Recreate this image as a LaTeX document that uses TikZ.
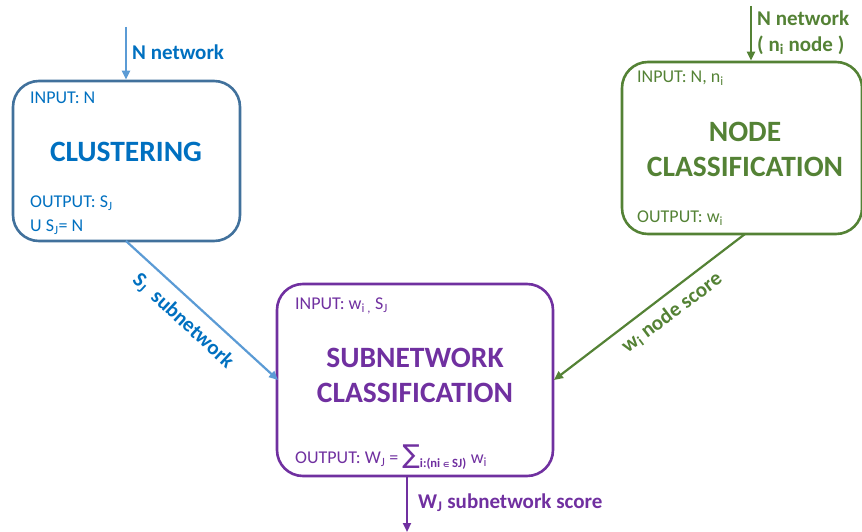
\documentclass[tikz,border=0pt]{standalone}
\usepackage{fontspec}
\setmainfont{Carlito}
\newfontfamily\symfont{DejaVu Sans}
\usetikzlibrary{arrows.meta}
\definecolor{clusline}{HTML}{41719C}
\definecolor{clustext}{HTML}{0070C0}
\definecolor{clusarrow}{HTML}{5B9BD5}
\definecolor{nodegreen}{HTML}{548235}
\definecolor{subpurple}{HTML}{7030A0}
\tikzset{
  stagebox/.style={draw, line width=2.6pt, rounded corners=26pt, inner sep=0pt},
  flow/.style={line width=2.2pt, -{Triangle[length=9pt,width=8pt]}},
  io/.style={anchor=west, inner sep=0pt, font=\fontsize{18}{20}\selectfont},
  title/.style={align=center, inner sep=0pt, font=\bfseries\fontsize{29.5}{35}\selectfont},
  tag/.style={inner sep=0pt, font=\bfseries\fontsize{21}{26}\selectfont},
}
\begin{document}
\begin{tikzpicture}[x=1pt,y=-1pt]
\useasboundingbox (0,0) rectangle (862,532);

% clustering stage
\node[stagebox, clusline, minimum width=227pt, minimum height=160pt] (clus) at (126.5,161) {};
\node[io, text=clustext] (clusin) at (30,98) {INPUT: N};
\node[title, text=clustext] (clustitle) at (126,152) {CLUSTERING};
\node[io, text=clustext] (clusout) at (30,203) {OUTPUT: S\textsubscript{J}};
\node[io, text=clustext] (clusunion) at (30,227) {U S\textsubscript{J}= N};

% node classification stage
\node[stagebox, nodegreen, minimum width=240pt, minimum height=172pt] (ncls) at (742,148) {};
\node[io, text=nodegreen] (nclsin) at (637,78) {INPUT: N, n\textsubscript{i}};
\node[title, text=nodegreen] (nclstitle) at (745,149) {NODE\\CLASSIFICATION};
\node[io, text=nodegreen] (nclsout) at (637,218) {OUTPUT: w\textsubscript{i}};

% subnetwork classification stage
\node[stagebox, subpurple, minimum width=276pt, minimum height=192pt] (scls) at (415,380) {};
\node[io, text=subpurple] (sclsin) at (295,306) {INPUT: w\textsubscript{i~,} S\textsubscript{J}};
\node[title, text=subpurple] (sclstitle) at (415,375) {SUBNETWORK\\CLASSIFICATION};
\node[io, text=subpurple] (sclsout) at (295,457) {OUTPUT: W\textsubscript{J} = {\fontsize{26}{26}\selectfont\symfont ∑}\textsubscript{\bfseries i:(ni {\symfont\fontsize{7}{7}\selectfont ∈} SJ)} w\textsubscript{i}};

% external inputs and output
\coordinate (clusfeed) at (126,27);
\coordinate (nclsfeed) at (751,6);
\coordinate (sclsdrain) at (407,532);
\draw[flow, clusarrow] (clusfeed) -- (clus.north -| clusfeed);
\draw[flow, nodegreen] (nclsfeed) -- (ncls.north -| nclsfeed);
\draw[flow, subpurple] (scls.south -| sclsdrain) -- (sclsdrain);

\node[tag, anchor=west, text=clustext] (clusfeedlbl) at (132,52) {N network};
\node[tag, anchor=west, text=nodegreen, align=left] (nclsfeedlbl) at (757,33) {N network\\( n\textsubscript{i} node )};
\node[tag, anchor=west, text=subpurple] (sclsdrainlbl) at (418,503) {W\textsubscript{J} subnetwork score};

% links between stages
\coordinate (clusexit) at (126,241);
\coordinate (sclsleft) at (278,380);
\coordinate (nclsexit) at (745,234);
\coordinate (sclsright) at (554,380);
\draw[flow, clusarrow] (clusexit) -- (sclsleft);
\draw[flow, nodegreen] (nclsexit) -- (sclsright);
\node[tag, text=clustext, rotate=-42.6] (subnetlbl) at (183,321) {S\textsubscript{J}\ \ subnetwork};
\node[tag, text=nodegreen, rotate=37] (scorelbl) at (672,313) {w\textsubscript{i} node score};
\end{tikzpicture}
\end{document}
